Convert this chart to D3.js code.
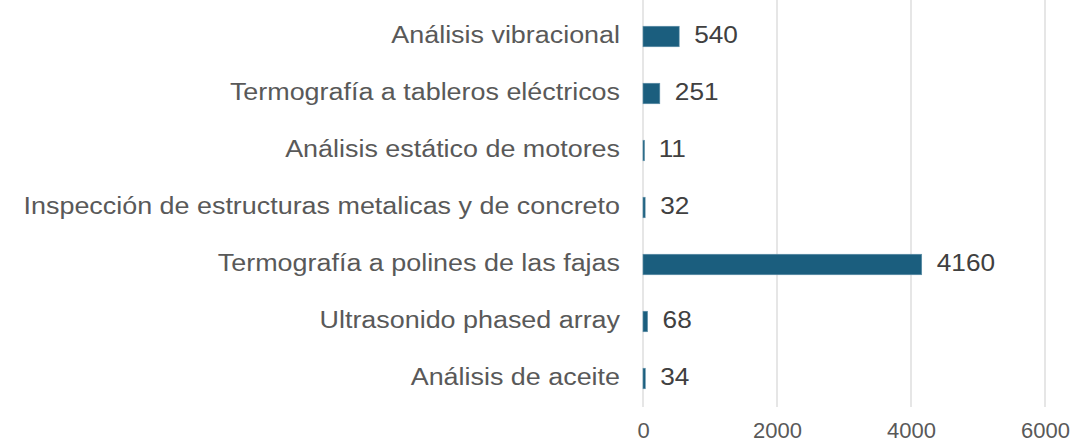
<!DOCTYPE html>
<html><head><meta charset="utf-8">
<script src="https://cdn.jsdelivr.net/npm/d3@7"></script>
<style>body{margin:0;background:#fff}</style>
</head><body>
<svg id="c" width="1091" height="443"></svg>
<script>
const categories = ["Análisis vibracional","Termografía a tableros eléctricos","Análisis estático de motores","Inspección de estructuras metalicas y de concreto","Termografía a polines de las fajas","Ultrasonido phased array","Análisis de aceite"];
const values = [540,251,11,32,4160,68,34];
const tickValues = [0,2000,4000,6000];

const svg = d3.select("#c");
const x = d3.scaleLinear().domain([0,6000]).range([643,1045]);
const y = d3.scaleBand().domain(categories).range([8,407]).paddingInner(0.64).paddingOuter(0.32);
const font = "Liberation Sans, Arial, sans-serif";

svg.append("g").selectAll("line").data(tickValues).join("line")
  .attr("x1",d=>x(d)).attr("x2",d=>x(d)).attr("y1",0).attr("y2",407)
  .attr("stroke","#d9d9d9").attr("stroke-width",1.3);

svg.append("g").selectAll("rect").data(values).join("rect")
  .attr("x",x(0)).attr("y",(d,i)=>y(categories[i]))
  .attr("width",d=>Math.max(1.5,x(d)-x(0))).attr("height",y.bandwidth())
  .attr("fill","#1b5e7e").attr("stroke","#5e8fa8").attr("stroke-width",0.6);

svg.append("g").selectAll("text").data(values).join("text")
  .attr("transform",(d,i)=>`translate(${x(d)+15},${y(categories[i])+y.bandwidth()/2}) scale(1.14,1)`)
  .attr("dy","0.3em").attr("font-family",font).attr("font-size",23).attr("fill","#404040")
  .text(d=>d);

const yAxis = svg.append("g").attr("transform",`translate(620,0)`)
  .call(d3.axisLeft(y).tickSize(0).tickPadding(0));
yAxis.select(".domain").remove();
yAxis.selectAll("text").attr("font-family",font).attr("font-size",23).attr("fill","#595959")
  .attr("dy","0.27em").attr("x",0).attr("transform","scale(1.17,1)");

const xAxis = svg.append("g").attr("transform",`translate(0,438)`)
  .call(d3.axisBottom(x).tickValues(tickValues).tickSize(0).tickPadding(0).tickFormat(d3.format("d")));
xAxis.select(".domain").remove();
xAxis.selectAll("text").attr("font-family",font).attr("font-size",22).attr("fill","#595959").attr("dy","0").attr("y",0);
</script>
</body></html>
